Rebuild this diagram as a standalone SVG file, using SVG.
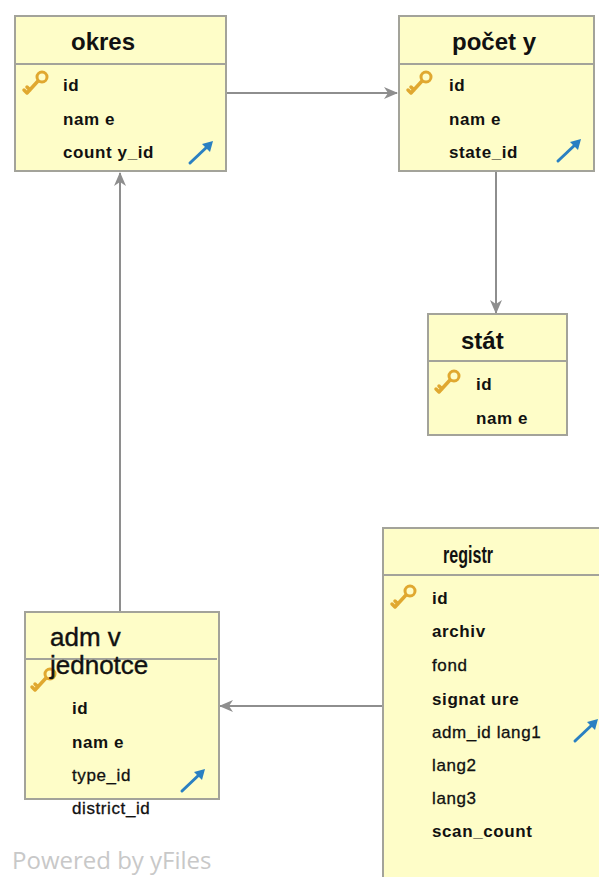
<svg xmlns="http://www.w3.org/2000/svg" width="599" height="877" viewBox="0 0 599 877">
<style>
.box{fill:#fefdc8;stroke:#a3a39a;stroke-width:2}
.div{stroke:#a3a39a;stroke-width:2}
.t{font-family:"Liberation Sans",Arial,sans-serif;font-size:24px;font-weight:bold;fill:#111}
.tn{font-family:"Liberation Sans",Arial,sans-serif;font-size:26px;fill:#111;stroke:#111;stroke-width:0.4px}
.r{font-family:"Liberation Sans",Arial,sans-serif;font-size:17px;font-weight:bold;letter-spacing:0.6px;fill:#111}
.rn{font-family:"Liberation Sans",Arial,sans-serif;font-size:17px;letter-spacing:0.6px;fill:#111;stroke:#111;stroke-width:0.3px}
.edge{stroke:#8e8e8e;stroke-width:2;fill:none}
.wm{font-family:"Open Sans","Liberation Sans",sans-serif;font-size:24px;fill:#c8c8c8}
</style>
<defs>
<marker id="ah" markerWidth="14" markerHeight="12" refX="13" refY="6" orient="auto" markerUnits="userSpaceOnUse">
<path d="M0,0 L14,6 L0,12 L4,6 Z" fill="#8e8e8e"/>
</marker>
<g id="key">
<circle cx="20" cy="7" r="5" fill="none" stroke="#e0a830" stroke-width="3"/>
<path d="M16,11 L5,23 M5,23 L2,20 M8,20 L5,17" stroke="#e0a830" stroke-width="3.5" stroke-linecap="round" fill="none"/>
</g>
<g id="fk">
<path d="M2,23 L21,5" stroke="#2a80c2" stroke-width="3" stroke-linecap="round"/>
<path d="M25,1 L14,4 L22,12 Z" fill="#2a80c2"/>
</g>
</defs>

<g id="connectors">
<line class="edge" x1="227" y1="93" x2="397" y2="93" marker-end="url(#ah)"/>
<line class="edge" x1="496" y1="172" x2="496" y2="313" marker-end="url(#ah)"/>
<line class="edge" x1="120" y1="611" x2="120" y2="173" marker-end="url(#ah)"/>
<line class="edge" x1="383" y1="706" x2="220" y2="706" marker-end="url(#ah)"/>
</g>

<g id="okres">
<rect class="box" x="15" y="16" width="211" height="155"/>
<line class="div" x1="15" y1="64" x2="226" y2="64"/>
<text class="t" x="71" y="50">okres</text>
<use href="#key" x="22" y="70"/>
<text class="r" x="63" y="91">id</text>
<text class="r" x="63" y="125">nam e</text>
<text class="r" x="63" y="158">count y_id</text>
<use href="#fk" x="188" y="140"/>
</g>

<g id="pocety">
<rect class="box" x="399" y="16" width="195" height="155"/>
<line class="div" x1="399" y1="64" x2="594" y2="64"/>
<text class="t" x="452" y="50">počet y</text>
<use href="#key" x="406" y="70"/>
<text class="r" x="449" y="91">id</text>
<text class="r" x="449" y="125">nam e</text>
<text class="r" x="449" y="158">state_id</text>
<use href="#fk" x="556" y="138"/>
</g>

<g id="stat">
<rect class="box" x="428" y="314" width="139" height="121"/>
<line class="div" x1="428" y1="361" x2="567" y2="361"/>
<text class="t" x="461" y="349">stát</text>
<use href="#key" x="434" y="369"/>
<text class="r" x="476" y="390">id</text>
<text class="r" x="476" y="424">nam e</text>
</g>

<g id="admvjednotce">
<rect class="box" x="25" y="612" width="194" height="187"/>
<line class="div" x1="25" y1="659" x2="217" y2="659"/>
<use href="#key" x="30" y="667"/>
<text class="tn" x="50" y="646">adm v</text>
<text class="tn" x="50" y="674">jednotce</text>
<text class="r" x="72" y="714">id</text>
<text class="r" x="72" y="748">nam e</text>
<text class="rn" x="72" y="781">type_id</text>
<text class="rn" x="72" y="814">district_id</text>
<use href="#fk" x="180" y="768"/>
</g>

<g id="registr">
<rect class="box" x="383" y="528" width="220" height="360"/>
<line class="div" x1="383" y1="575" x2="603" y2="575"/>
<text class="t" x="443" y="563" textLength="50" lengthAdjust="spacingAndGlyphs">registr</text>
<use href="#key" x="390" y="584"/>
<text class="r" x="432" y="604">id</text>
<text class="r" x="432" y="637">archiv</text>
<text class="rn" x="432" y="671">fond</text>
<text class="r" x="432" y="705">signat ure</text>
<text class="rn" x="432" y="738">adm_id lang1</text>
<text class="rn" x="432" y="771">lang2</text>
<text class="rn" x="432" y="804">lang3</text>
<text class="r" x="432" y="837">scan_count</text>
<use href="#fk" x="573" y="718"/>
</g>

<text class="wm" x="12" y="869">Powered by yFiles</text>
</svg>
